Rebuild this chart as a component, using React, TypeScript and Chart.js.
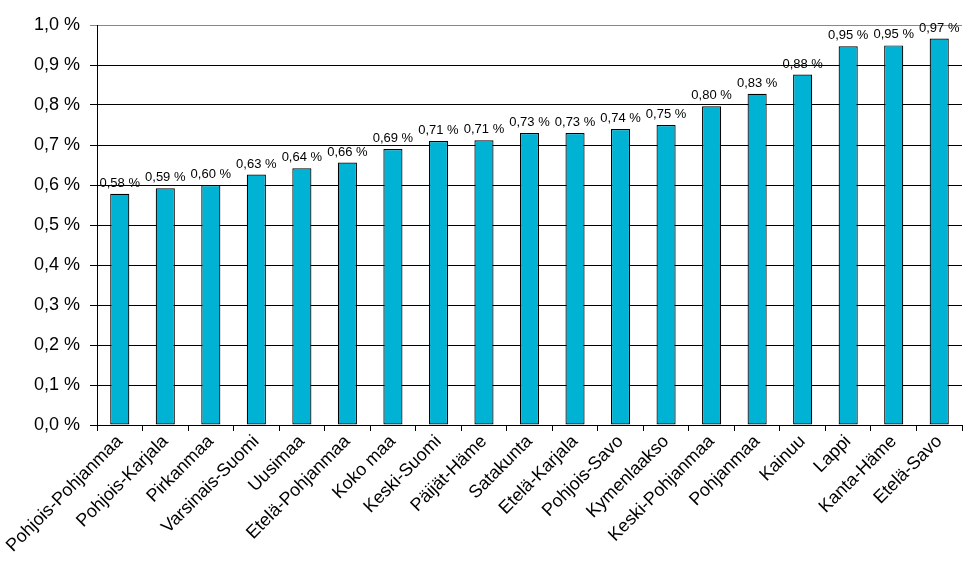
import React, { useEffect, useRef } from "react";
import { Chart, registerables } from "chart.js";

Chart.register(...registerables);

const regions = [
  "Pohjois-Pohjanmaa", "Pohjois-Karjala", "Pirkanmaa", "Varsinais-Suomi", "Uusimaa",
  "Etelä-Pohjanmaa", "Koko maa", "Keski-Suomi", "Päijät-Häme", "Satakunta",
  "Etelä-Karjala", "Pohjois-Savo", "Kymenlaakso", "Keski-Pohjanmaa", "Pohjanmaa",
  "Kainuu", "Lappi", "Kanta-Häme", "Etelä-Savo",
];
const shares = [
  0.578, 0.592, 0.600, 0.626, 0.642, 0.656, 0.690, 0.710, 0.712, 0.730,
  0.730, 0.740, 0.750, 0.797, 0.828, 0.876, 0.947, 0.949, 0.966,
];
const yTicks = [0, 0.1, 0.2, 0.3, 0.4, 0.5, 0.6, 0.7, 0.8, 0.9, 1.0];

const fmt = (v: number, d: number) => v.toFixed(d).replace(".", ",");
const FONT = '"Liberation Sans", Arial, sans-serif';

const valueLabels = {
  id: "valueLabels",
  afterDatasetsDraw(chart: any) {
    const ctx = chart.ctx;
    const meta = chart.getDatasetMeta(0);
    ctx.save();
    ctx.font = '13px "Liberation Sans", Arial, sans-serif';
    ctx.fillStyle = "#000";
    ctx.textAlign = "center";
    ctx.textBaseline = "bottom";
    meta.data.forEach((bar: any, i: number) => {
      const v = Math.round(shares[i] * 100) / 100;
      ctx.fillText(fmt(v, 2) + " %", bar.x, bar.y - 4);
    });
    ctx.restore();
  },
};

export default function App() {
  const ref = useRef<HTMLCanvasElement>(null);
  useEffect(() => {
    const chart = new Chart(ref.current!, {
      type: "bar",
      data: {
        labels: regions,
        datasets: [
          {
            data: shares,
            backgroundColor: "#00B2D4",
            borderColor: "#000",
            borderWidth: 1.2,
            borderSkipped: false,
            barPercentage: 0.42,
            categoryPercentage: 1,
          },
        ],
      },
      options: {
        animation: false,
        responsive: false,
        maintainAspectRatio: false,
        layout: { padding: { top: 25, right: 3, left: 0, bottom: 0 } },
        plugins: { legend: { display: false }, tooltip: { enabled: false } },
        scales: {
          x: {
            offset: true,
            grid: {
              offset: true,
              drawOnChartArea: false,
              drawTicks: true,
              tickLength: 6,
              color: "#000",
            },
            border: { color: "#000", width: 1 },
            ticks: {
              color: "#000",
              font: { family: FONT, size: 18 },
              minRotation: 45,
              maxRotation: 45,
              autoSkip: false,
              padding: 0,
            },
            afterFit: (s: any) => {
              s.height = 162;
            },
          },
          y: {
            min: 0,
            max: 1,
            afterBuildTicks: (s: any) => {
              s.ticks = yTicks.map((v) => ({ value: v }));
            },
            grid: {
              color: (c: any) => (c.tick && c.tick.value >= 0.999 ? "#888" : "#000"),
              tickLength: 7,
              lineWidth: 1,
            },
            border: { color: "#000", width: 1 },
            ticks: {
              color: "#000",
              font: { family: FONT, size: 18 },
              padding: 10,
              callback: (v: any) => fmt(Number(v), 1) + " %",
            },
            afterFit: (s: any) => {
              s.width = 97;
            },
          },
        },
      },
      plugins: [valueLabels],
    });
    return () => chart.destroy();
  }, []);
  return (
    <div style={{ position: "absolute", left: 0, top: 0, width: 965, height: 587, background: "#fff" }}>
      <canvas ref={ref} width={965} height={587} />
    </div>
  );
}
